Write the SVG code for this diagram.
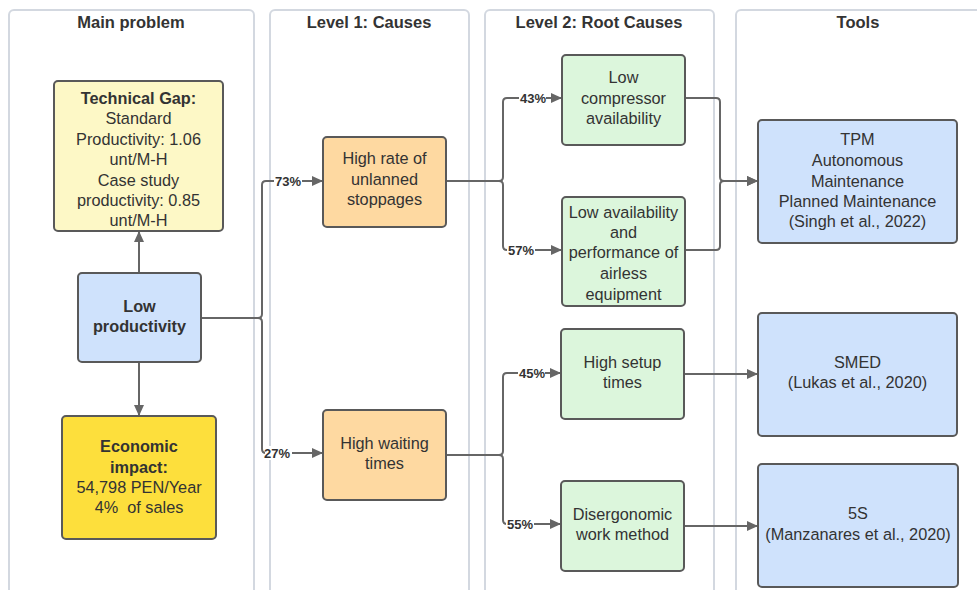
<svg xmlns="http://www.w3.org/2000/svg" width="977" height="590" viewBox="0 0 977 590">
  <style>
    .lane { fill: #ffffff; stroke: #d3d8e0; stroke-width: 2; }
    .title { font-family: "Liberation Sans", Arial, sans-serif; font-size: 16.5px; font-weight: bold; fill: #333333; text-anchor: middle; }
    .box { stroke: #595959; stroke-width: 2; }
    .txt { font-family: "Liberation Sans", Arial, sans-serif; font-size: 16.3px; fill: #333333; text-anchor: middle; }
    .b { font-weight: bold; }
    .gap { fill: #fdf8c6; }
    .prob { fill: #cfe2fc; }
    .eco { fill: #fddf3c; }
    .cause { fill: #fed9a1; }
    .root { fill: #dcf6dc; }
    .tool { fill: #cfe2fc; }
    .wire { fill: none; stroke: #666666; stroke-width: 2; }
    .pct { font-family: "Liberation Sans", Arial, sans-serif; font-size: 13px; font-weight: bold; fill: #333333; }
    .pbg { fill: #ffffff; }
  </style>
  <defs>
    <marker id="arrow" markerUnits="userSpaceOnUse" markerWidth="12" markerHeight="10" refX="11" refY="5" orient="auto">
      <path d="M0,0 L11,5 L0,10 Z" fill="#666666"/>
    </marker>
  </defs>

  <rect width="977" height="590" fill="#ffffff"/>

  <!-- swimlanes -->
  <g id="lanes">
    <rect class="lane" x="9" y="10" width="245" height="600" rx="5"/>
    <rect class="lane" x="270" y="10" width="199" height="600" rx="5"/>
    <rect class="lane" x="485" y="10" width="229" height="600" rx="5"/>
    <rect class="lane" x="736" y="10" width="260" height="600" rx="5"/>
    <text class="title" x="131" y="28">Main problem</text>
    <text class="title" x="369" y="28">Level 1: Causes</text>
    <text class="title" x="599" y="28">Level 2: Root Causes</text>
    <text class="title" x="858" y="28">Tools</text>
  </g>

  <!-- connectors -->
  <g id="connectors">
    <path class="wire" d="M139,273 V231" marker-end="url(#arrow)"/>
    <path class="wire" d="M139,362 V416" marker-end="url(#arrow)"/>
    <path class="wire" d="M201,318 H258 Q262,318 262,314 V185 Q262,181 266,181 H323" marker-end="url(#arrow)"/>
    <path class="wire" d="M201,318 H258 Q262,318 262,322 V449 Q262,453 266,453 H323" marker-end="url(#arrow)"/>
    <path class="wire" d="M446,181 H499 Q503,181 503,177 V102 Q503,98 507,98 H562" marker-end="url(#arrow)"/>
    <path class="wire" d="M446,181 H499 Q503,181 503,185 V246 Q503,250 507,250 H562" marker-end="url(#arrow)"/>
    <path class="wire" d="M446,455 H499 Q503,455 503,451 V377 Q503,373 507,373 H561" marker-end="url(#arrow)"/>
    <path class="wire" d="M446,455 H499 Q503,455 503,459 V520 Q503,524 507,524 H561" marker-end="url(#arrow)"/>
    <path class="wire" d="M685,98 H716 Q720,98 720,102 V177 Q720,181 724,181 H758" marker-end="url(#arrow)"/>
    <path class="wire" d="M685,250 H716 Q720,250 720,246 V185 Q720,181 724,181 H758" marker-end="url(#arrow)"/>
    <path class="wire" d="M684,374 H758" marker-end="url(#arrow)"/>
    <path class="wire" d="M684,526 H758" marker-end="url(#arrow)"/>

    <rect class="pbg" x="274" y="174" width="28" height="14"/>
    <text class="pct" x="275" y="185.5">73%</text>
    <rect class="pbg" x="265" y="446" width="27" height="14"/>
    <text class="pct" x="264" y="458">27%</text>
    <rect class="pbg" x="519" y="91" width="27" height="14"/>
    <text class="pct" x="520" y="102.5">43%</text>
    <rect class="pbg" x="507" y="243" width="28" height="14"/>
    <text class="pct" x="508" y="254.5">57%</text>
    <rect class="pbg" x="518" y="366" width="27" height="14"/>
    <text class="pct" x="519" y="377.5">45%</text>
    <rect class="pbg" x="506" y="517" width="28" height="14"/>
    <text class="pct" x="507" y="528.5">55%</text>
  </g>

  <!-- main problem -->
  <g id="technical-gap">
    <rect class="box gap" x="54" y="81" width="169" height="150" rx="4"/>
    <text class="txt b" x="138.5" y="104">Technical Gap:</text>
    <text class="txt" x="138.5" y="124.4">Standard</text>
    <text class="txt" x="138.5" y="144.8">Productivity: 1.06</text>
    <text class="txt" x="138.5" y="165.2">unt/M-H</text>
    <text class="txt" x="138.5" y="185.6">Case study</text>
    <text class="txt" x="138.5" y="206">productivity: 0.85</text>
    <text class="txt" x="138.5" y="226.4">unt/M-H</text>
  </g>
  <g id="low-productivity">
    <rect class="box prob" x="78" y="273" width="123" height="89" rx="4"/>
    <text class="txt b" x="139.5" y="312">Low</text>
    <text class="txt b" x="139.5" y="332">productivity</text>
  </g>
  <g id="economic-impact">
    <rect class="box eco" x="62" y="416" width="154" height="123" rx="4"/>
    <text class="txt b" x="139" y="452">Economic</text>
    <text class="txt b" x="139" y="473">impact:</text>
    <text class="txt" x="139" y="493">54,798 PEN/Year</text>
    <text class="txt" x="139" y="513" xml:space="preserve">4%  of sales</text>
  </g>

  <!-- level 1 -->
  <g id="unplanned-stoppages">
    <rect class="box cause" x="323" y="137" width="123" height="90" rx="4"/>
    <text class="txt" x="384.5" y="164">High rate of</text>
    <text class="txt" x="384.5" y="185">unlanned</text>
    <text class="txt" x="384.5" y="205">stoppages</text>
  </g>
  <g id="waiting-times">
    <rect class="box cause" x="323" y="410" width="123" height="90" rx="4"/>
    <text class="txt" x="384.5" y="449">High waiting</text>
    <text class="txt" x="384.5" y="469">times</text>
  </g>

  <!-- level 2 -->
  <g id="compressor">
    <rect class="box root" x="562" y="55" width="123" height="90" rx="4"/>
    <text class="txt" x="623.5" y="83">Low</text>
    <text class="txt" x="623.5" y="104">compressor</text>
    <text class="txt" x="623.5" y="124">availability</text>
  </g>
  <g id="airless">
    <rect class="box root" x="562" y="197" width="123" height="109" rx="4"/>
    <text class="txt" x="623.5" y="218">Low availability</text>
    <text class="txt" x="623.5" y="238">and</text>
    <text class="txt" x="623.5" y="258">performance of</text>
    <text class="txt" x="623.5" y="279">airless</text>
    <text class="txt" x="623.5" y="300">equipment</text>
  </g>
  <g id="setup-times">
    <rect class="box root" x="561" y="329" width="123" height="90" rx="4"/>
    <text class="txt" x="622.5" y="368">High setup</text>
    <text class="txt" x="622.5" y="388">times</text>
  </g>
  <g id="work-method">
    <rect class="box root" x="561" y="481" width="123" height="90" rx="4"/>
    <text class="txt" x="622.5" y="520">Disergonomic</text>
    <text class="txt" x="622.5" y="540">work method</text>
  </g>

  <!-- tools -->
  <g id="tpm">
    <rect class="box tool" x="758" y="120" width="199" height="123" rx="4"/>
    <text class="txt" x="857.5" y="145">TPM</text>
    <text class="txt" x="857.5" y="166">Autonomous</text>
    <text class="txt" x="857.5" y="187">Maintenance</text>
    <text class="txt" x="857.5" y="207">Planned Maintenance</text>
    <text class="txt" x="857.5" y="227">(Singh et al., 2022)</text>
  </g>
  <g id="smed">
    <rect class="box tool" x="758" y="313" width="199" height="123" rx="4"/>
    <text class="txt" x="857.5" y="368">SMED</text>
    <text class="txt" x="857.5" y="388">(Lukas et al., 2020)</text>
  </g>
  <g id="five-s">
    <rect class="box tool" x="758" y="464" width="200" height="123" rx="4"/>
    <text class="txt" x="858" y="519">5S</text>
    <text class="txt" x="858" y="540">(Manzanares et al., 2020)</text>
  </g>
</svg>
